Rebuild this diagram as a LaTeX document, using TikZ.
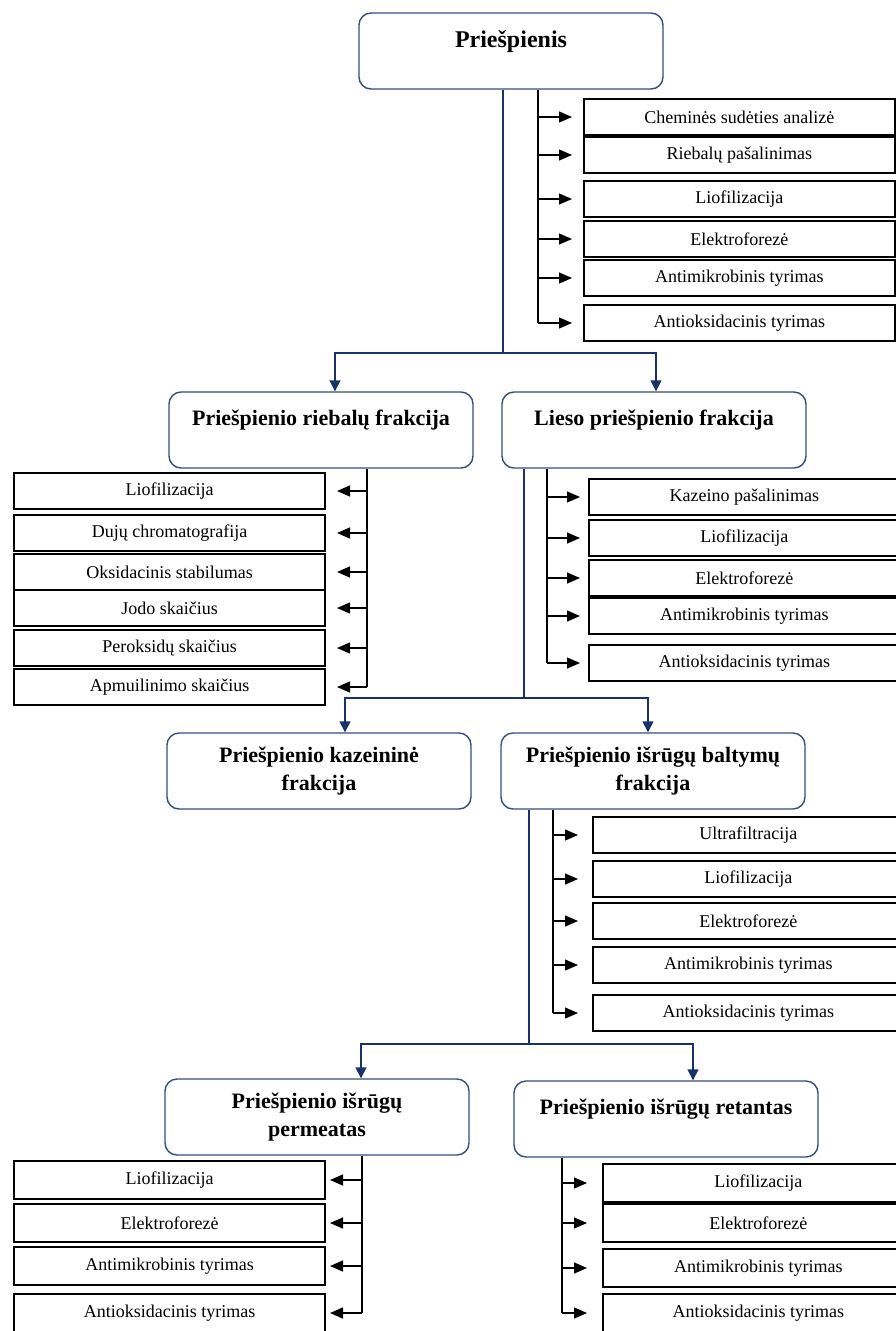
\documentclass[tikz,border=0pt]{standalone}
\usepackage{fontspec}
\setmainfont{Liberation Serif}
\usetikzlibrary{positioning,calc,arrows.meta}
\definecolor{PanelBlue}{RGB}{52,78,125}
\definecolor{LinkBlue}{RGB}{25,50,105}

\tikzset{
  stage/.style={draw=PanelBlue, line width=1.4pt, rounded corners=12pt,
    minimum width=304pt, minimum height=76pt, inner sep=0pt, align=center,
    font=\bfseries\fontsize{22}{28}\selectfont},
  topline/.style={text depth=24pt},
  testbox/.style={draw=black, line width=1.8pt, minimum width=311pt,
    minimum height=36pt, inner sep=0pt, font=\fontsize{18}{20}\selectfont},
  link/.style={draw=LinkBlue, line width=1.5pt},
  linkarrow/.style={link, -{Triangle[length=11pt,width=11pt]}},
  stub/.style={draw=black, line width=1.3pt},
  stubarrow/.style={stub, -{Triangle[length=13pt,width=11pt]}}
}

\begin{document}
\begin{tikzpicture}[x=1pt,y=-1pt]
    \clip (0,0) rectangle (896,1331);

    \node[stage, topline, font=\bfseries\fontsize{24}{28}\selectfont] (prie) at (511,51) {Priešpienis};
    \node[stage, topline] (fat) at (321,430) {Priešpienio riebalų frakcija};
    \node[stage, topline] (skim) at (654,430) {Lieso priešpienio frakcija};
    \node[stage] (kaz) at (319,771) {Priešpienio kazeininė\\frakcija};
    \node[stage] (whey) at (653,771) {Priešpienio išrūgų baltymų\\frakcija};
    \node[stage] (perm) at (317,1117) {Priešpienio išrūgų\\permeatas};
    \node[stage, topline] (ret) at (666,1119) {Priešpienio išrūgų retantas};

    \coordinate (j1) at (503,353);
    \draw[link] (prie.south -| j1) -- (j1);
    \draw[linkarrow] (j1) -| ($(fat.north)+(14,0)$);
    \draw[linkarrow] (j1) -| ($(skim.north)+(2,0)$);

    \coordinate (j2) at (524,698);
    \draw[link] (skim.south -| j2) -- (j2);
    \draw[linkarrow] (j2) -| ($(kaz.north)+(26,0)$);
    \draw[linkarrow] (j2) -| ($(whey.north)+(-5,0)$);

    \coordinate (j3) at (529,1044);
    \draw[link] (whey.south -| j3) -- (j3);
    \draw[linkarrow] (j3) -| ($(perm.north)+(44,0)$);
    \draw[linkarrow] (j3) -| ($(ret.north)+(27,0)$);

    \foreach \yy/\txt [count=\i] in {117/Cheminės sudėties analizė, 155/Riebalų pašalinimas,
        199/Liofilizacija, 239/Elektroforezė, 278/Antimikrobinis tyrimas, 323/Antioksidacinis tyrimas} {
        \node[testbox, anchor=west] (pa\i) at (583,\yy) {\txt};
    }
    \coordinate (pt) at ($(prie.south)+(27,0)$);
    \draw[stub] (pt) -- (pt |- pa6.west);
    \foreach \i in {1,...,6} {
        \draw[stubarrow, shorten >=11pt] (pt |- pa\i.west) -- (pa\i.west);
    }

    \foreach \yy/\txt [count=\i] in {491/Liofilizacija, 533/Dujų chromatografija, 572/Oksidacinis stabilumas,
        608/Jodo skaičius, 648/Peroksidų skaičius, 687/Apmuilinimo skaičius} {
        \node[testbox, anchor=east] (fa\i) at (326,\yy) {\txt};
    }
    \coordinate (ft) at ($(fat.south)+(46,0)$);
    \draw[stub] (ft) -- (ft |- fa6.east);
    \foreach \i in {1,...,6} {
        \draw[stubarrow, shorten >=11pt] (ft |- fa\i.east) -- (fa\i.east);
    }

    \foreach \yy/\txt [count=\i] in {497/Kazeino pašalinimas, 538/Liofilizacija, 578/Elektroforezė,
        616/Antimikrobinis tyrimas, 663/Antioksidacinis tyrimas} {
        \node[testbox, anchor=west] (sa\i) at (588,\yy) {\txt};
    }
    \coordinate (st) at ($(skim.south)+(-107,0)$);
    \draw[stub] (st) -- (st |- sa5.west);
    \foreach \i in {1,...,5} {
        \draw[stubarrow, shorten >=8pt] (st |- sa\i.west) -- (sa\i.west);
    }

    \foreach \yy/\txt [count=\i] in {835/Ultrafiltracija, 879/Liofilizacija, 921/Elektroforezė,
        965/Antimikrobinis tyrimas, 1013/Antioksidacinis tyrimas} {
        \node[testbox, anchor=west] (wa\i) at (592,\yy) {\txt};
    }
    \coordinate (wt) at ($(whey.south)+(-100,0)$);
    \draw[stub] (wt) -- (wt |- wa5.west);
    \foreach \i in {1,...,5} {
        \draw[stubarrow, shorten >=14pt] (wt |- wa\i.west) -- (wa\i.west);
    }

    \foreach \yy/\txt [count=\i] in {1180/Liofilizacija, 1223/Elektroforezė, 1266/Antimikrobinis tyrimas,
        1313/Antioksidacinis tyrimas} {
        \node[testbox, anchor=east, minimum height=38pt] (ma\i) at (326,\yy) {\txt};
    }
    \coordinate (mt) at ($(perm.south)+(45,0)$);
    \draw[stub] (mt) -- (mt |- ma4.east);
    \foreach \i in {1,...,4} {
        \draw[stubarrow, shorten >=4pt] (mt |- ma\i.east) -- (ma\i.east);
    }

    \foreach \yy/\txt [count=\i] in {1183/Liofilizacija, 1223/Elektroforezė, 1268/Antimikrobinis tyrimas,
        1313/Antioksidacinis tyrimas} {
        \node[testbox, anchor=west, minimum height=38pt] (ra\i) at (602,\yy) {\txt};
    }
    \coordinate (rt) at ($(ret.south)+(-104,0)$);
    \draw[stub] (rt) -- (rt |- ra4.west);
    \foreach \i in {1,...,4} {
        \draw[stubarrow, shorten >=15pt] (rt |- ra\i.west) -- (ra\i.west);
    }
\end{tikzpicture}
\end{document}
